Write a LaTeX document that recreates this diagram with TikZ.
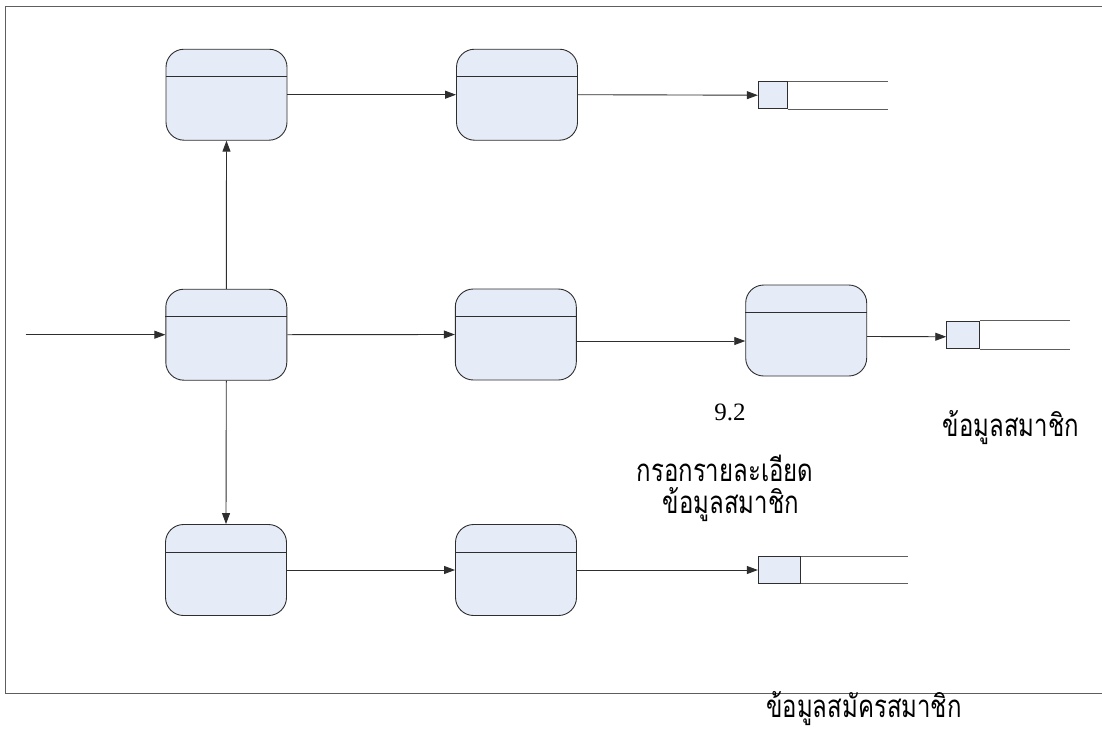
\documentclass[tikz,border=0pt]{standalone}
\usepackage{fontspec}
\setmainfont{Liberation Serif}
\newfontfamily\thaifont[Script=Thai]{Loma}
\usetikzlibrary{arrows.meta}
\definecolor{procfill}{HTML}{E6ECF7}
\definecolor{edgecol}{HTML}{2E2E2E}
\definecolor{framecol}{HTML}{5E5E5E}
\newcommand{\thaitxt}[1]{\scalebox{1}[1.3]{\thaifont\fontsize{24}{28}\selectfont #1}}
\begin{document}
\begin{tikzpicture}[x=1pt,y=-1pt,
  proc/.style={draw=edgecol, fill=procfill, rounded corners=18pt, minimum width=121pt, minimum height=91pt, line width=0.9pt, inner sep=0pt},
  storeid/.style={draw=edgecol, fill=procfill, line width=0.9pt, inner sep=0pt},
  storeline/.style={draw=framecol, line width=0.9pt},
  flow/.style={draw=edgecol, line width=0.9pt, -{Triangle[length=11pt,width=8pt]}},
  thai/.style={inner sep=0pt},
  num/.style={font=\fontsize{25}{29}\selectfont, inner sep=0pt}]
\useasboundingbox (0,0) rectangle (1102,731);
\draw[framecol, line width=1pt] (5,6) rectangle (1115,693);
% processes
\foreach \n/\x/\y in {A/226.5/94.7, B/517/94.7, C/226.3/334.7, D/515.8/334.5, E/806.2/330.5, F/226/570, G/516/570}{
  \node[proc] (\n) at (\x,\y) {};
  \draw[edgecol, line width=0.9pt] ([yshift=-28pt]\n.north west) -- ([yshift=-28pt]\n.north east);
}
% stores
\node[storeid, minimum width=29pt, minimum height=27pt] (s1) at (772.8,95.2) {};
\draw[storeline] (s1.north east) -- ++(100.4,0);
\draw[storeline] (s1.south east) -- ++(100.4,0);
\node[storeid, minimum width=32.6pt, minimum height=27.7pt] (s2) at (963,334.85) {};
\draw[storeline] (s2.north east) -- ++(90,0);
\draw[storeline] (s2.south east) -- ++(90,0);
\node[storeid, minimum width=42pt, minimum height=26.6pt] (s3) at (779.3,570) {};
\draw[storeline] (s3.north east) -- ++(107,0);
\draw[storeline] (s3.south east) -- ++(107,0);
% flows
\coordinate (in) at (25.7,334.7);
\draw[flow] (in) -- (C.west);
\draw[flow] (C.north) -- (A.south);
\draw[flow] (C.south) -- (F.north);
\draw[flow] (A.east) -- (B.west);
\draw[flow] (B.east) -- (s1.west);
\draw[flow] (C.east) -- (D.west);
\draw[flow] ([yshift=-6.5pt]D.east) -- ([yshift=-10.5pt]E.west);
\draw[flow] ([yshift=-6pt]E.east) -- ([yshift=-1.9pt]s2.west);
\draw[flow] (F.east) -- (G.west);
\draw[flow] (G.east) -- (s3.west);
% texts
\node[num] (n92) at (730,412) {9.2};
\node[thai] (t1) at (725,468) {\thaitxt{กรอกรายละเอียด}};
\node[thai] (t2) at (731,505) {\thaitxt{ข้อมูลสมาชิก}};
\node[thai] (t3) at (1011,428) {\thaitxt{ข้อมูลสมาชิก}};
\node[thai] (t4) at (864,709) {\thaitxt{ข้อมูลสมัครสมาชิก}};
\end{tikzpicture}
\end{document}
